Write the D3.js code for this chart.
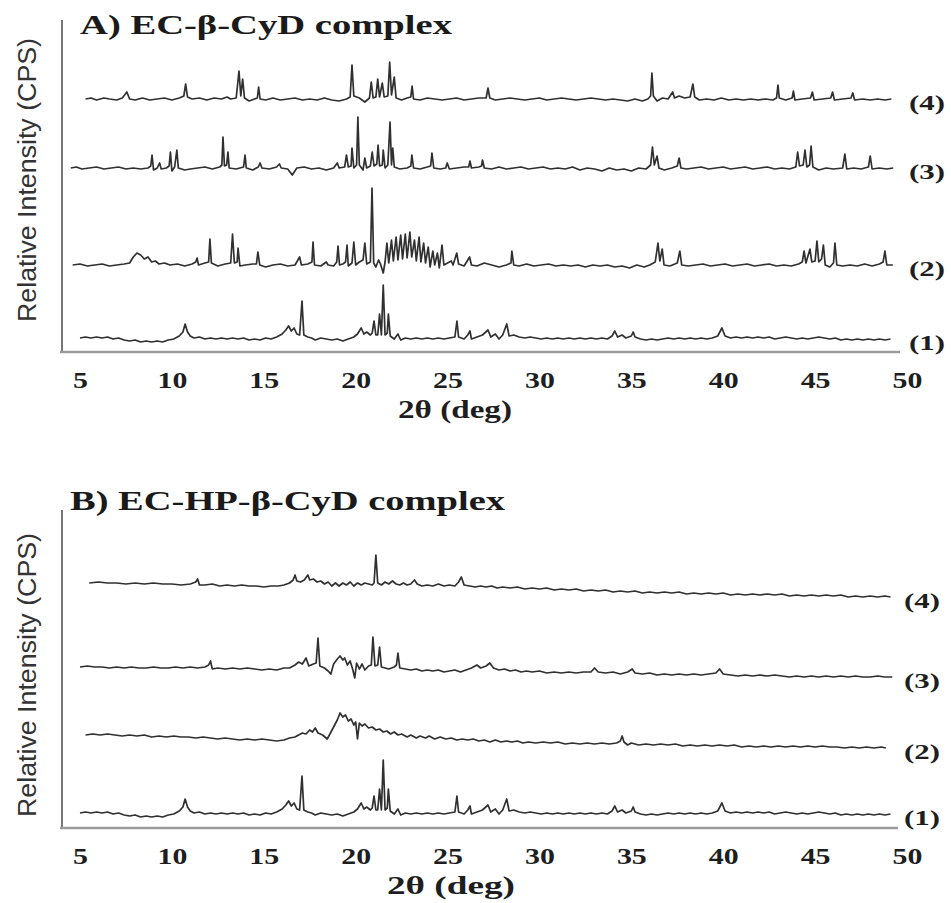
<!DOCTYPE html>
<html><head><meta charset="utf-8">
<script src="https://cdn.jsdelivr.net/npm/d3@7"></script>
<style>body{margin:0;background:#fff}</style>
</head><body><svg id="c" width="951" height="903"></svg>
<script>
// ---------------- data ----------------
const xTicks = [5, 10, 15, 20, 25, 30, 35, 40, 45, 50];
const seriesLabels = ["(1)", "(2)", "(3)", "(4)"];
const panelTitles = ["A) EC-\u03b2-CyD complex", "B) EC-HP-\u03b2-CyD complex"];
const yTitle = "Relative Intensity (CPS)";
const xTitle = "2\u03b8 (deg)";
// vertical offsets of stacked patterns (intensity units)
const offsetsA = [14, 87, 184, 253];
const offsetsB = [15, 93, 161, 245];

// Panel A (1) and Panel B (1): pure EC
const trace1 = [[5.0,0],[5.3,1],[5.6,0],[5.9,1],[6.2,0],[6.5,1],[6.8,-1],[7.1,0],[7.4,-2],[7.7,-3],[8.0,-2],[8.3,-4],[8.6,-3],[8.9,-4],[9.2,-3],[9.5,-4],[9.8,-2],[10.1,-1],[10.4,2],[10.6,6],[10.72,14],[10.85,6],[11.0,2],[11.2,0],[11.5,1],[11.8,-1],[12.1,0],[12.4,-1],[12.7,0],[13.0,-1],[13.3,0],[13.6,-1],[13.9,0],[14.2,-2],[14.5,-1],[14.8,-2],[15.1,0],[15.4,-1],[15.7,1],[16.0,4],[16.2,8],[16.35,12],[16.5,7],[16.65,10],[16.8,4],[16.95,3],[17.08,37],[17.18,3],[17.4,1],[17.6,0],[17.8,-2],[18.1,0],[18.4,-1],[18.7,-2],[19.0,-1],[19.3,-3],[19.6,-1],[19.9,1],[20.1,4],[20.3,10],[20.45,4],[20.6,6],[20.8,3],[20.9,5],[21.0,17],[21.1,3],[21.2,3],[21.3,24],[21.4,3],[21.5,53],[21.6,3],[21.72,5],[21.78,24],[21.88,2],[22.1,-1],[22.3,4],[22.45,-2],[22.7,0],[23.0,-1],[23.3,0],[23.6,-1],[23.9,0],[24.2,-1],[24.5,0],[24.8,-1],[25.1,0],[25.4,1],[25.51,17],[25.6,1],[25.9,-1],[26.1,3],[26.22,7],[26.3,-1],[26.6,1],[26.9,3],[27.2,8],[27.35,1],[27.6,4],[27.8,-1],[28.0,3],[28.22,14],[28.35,2],[28.6,3],[28.9,1],[29.2,0],[29.5,1],[29.8,0],[30.1,-1],[30.4,0],[30.7,-1],[31.0,0],[31.3,-1],[31.6,0],[31.9,-1],[32.2,0],[32.5,-1],[32.8,0],[33.1,-1],[33.4,0],[33.7,-1],[33.95,2],[34.1,7],[34.25,1],[34.5,3],[34.7,0],[35.0,2],[35.1,6],[35.2,1],[35.5,-1],[35.8,-2],[36.1,-1],[36.4,-2],[36.7,-1],[37.0,0],[37.3,-1],[37.6,0],[37.9,-1],[38.2,0],[38.5,-1],[38.8,0],[39.1,-1],[39.4,0],[39.7,2],[39.93,10],[40.1,2],[40.4,0],[40.7,1],[41.0,0],[41.3,1],[41.6,0],[41.9,1],[42.2,0],[42.5,1],[42.8,-1],[43.1,0],[43.4,1],[43.7,0],[44.0,-1],[44.3,0],[44.6,-1],[44.9,0],[45.2,1],[45.5,0],[45.8,-1],[46.1,0],[46.4,-2],[46.7,-1],[47.0,-2],[47.3,-1],[47.6,-2],[47.9,-1],[48.2,-2],[48.5,-1],[48.8,-2],[49.1,-1]];

const traceA2 = [[4.6,0],[5.0,1],[5.4,-1],[5.8,0],[6.2,1],[6.6,-1],[7.0,0],[7.4,1],[7.7,2],[7.9,8],[8.1,12],[8.3,10],[8.5,6],[8.7,8],[8.9,3],[9.1,4],[9.3,1],[9.6,2],[9.9,0],[10.3,1],[10.7,-1],[11.1,1],[11.3,3],[11.37,7],[11.45,0],[11.8,2],[12.0,3],[12.07,26],[12.15,2],[12.5,-1],[12.9,1],[13.2,2],[13.3,31],[13.4,2],[13.55,3],[13.6,17],[13.7,-1],[14.0,0],[14.4,1],[14.6,1],[14.68,13],[14.78,0],[15.1,-2],[15.5,0],[15.9,1],[16.3,-1],[16.7,0],[16.95,8],[17.05,0],[17.4,1],[17.62,3],[17.68,23],[17.76,0],[18.1,-1],[18.4,3],[18.5,0],[18.8,-1],[18.97,3],[19.04,19],[19.12,0],[19.3,1],[19.45,3],[19.53,20],[19.6,-1],[19.8,2],[19.9,23],[20.0,0],[20.2,3],[20.4,5],[20.5,22],[20.6,1],[20.8,3],[20.89,77],[20.98,2],[21.1,-2],[21.25,5],[21.35,1],[21.5,-8],[21.6,3],[21.7,22],[21.8,2],[21.95,25],[22.05,4],[22.2,28],[22.3,5],[22.45,30],[22.55,6],[22.7,31],[22.8,7],[22.95,33],[23.05,8],[23.2,25],[23.3,4],[23.45,28],[23.55,3],[23.7,22],[23.8,2],[23.95,18],[24.05,-2],[24.2,14],[24.3,0],[24.45,12],[24.55,-3],[24.7,20],[24.8,0],[25.0,2],[25.2,4],[25.3,0],[25.5,12],[25.6,1],[25.9,-1],[26.2,8],[26.3,0],[26.6,-1],[27.0,2],[27.4,0],[27.8,-2],[28.2,0],[28.45,2],[28.5,14],[28.6,0],[28.9,-1],[29.3,1],[29.7,-1],[30.1,0],[30.5,1],[30.9,-1],[31.3,0],[31.7,-1],[32.1,0],[32.5,-2],[32.9,0],[33.3,-1],[33.7,0],[34.1,-2],[34.5,-1],[34.9,-3],[35.3,0],[35.7,-2],[36.0,0],[36.3,3],[36.45,22],[36.55,4],[36.68,16],[36.78,0],[37.1,-1],[37.5,2],[37.64,14],[37.74,0],[38.1,-1],[38.5,0],[38.9,1],[39.3,-1],[39.7,0],[40.1,1],[40.5,-1],[40.9,0],[41.3,1],[41.7,-1],[42.1,0],[42.5,1],[42.9,-1],[43.3,0],[43.7,-1],[44.1,1],[44.3,3],[44.4,14],[44.5,2],[44.72,16],[44.82,3],[45.0,4],[45.1,24],[45.2,3],[45.35,6],[45.45,20],[45.55,0],[45.8,-2],[46.0,2],[46.08,22],[46.18,0],[46.5,-1],[46.9,0],[47.3,-1],[47.7,1],[48.1,-1],[48.5,1],[48.7,3],[48.8,14],[48.9,0],[49.23,0]];

const traceA3 = [[4.5,0],[4.8,1],[5.1,-1],[5.5,0],[5.9,1],[6.3,-1],[6.7,0],[7.1,1],[7.5,-1],[7.9,0],[8.3,-1],[8.7,0],[8.85,2],[8.92,13],[9.0,-2],[9.2,0],[9.33,5],[9.42,-1],[9.7,0],[9.85,2],[9.92,16],[10.0,-3],[10.15,1],[10.27,18],[10.35,0],[10.7,-2],[11.0,-1],[11.4,0],[11.8,1],[12.2,-1],[12.6,1],[12.72,3],[12.78,31],[12.86,2],[12.98,3],[13.05,16],[13.12,0],[13.5,-1],[13.9,1],[13.98,13],[14.05,0],[14.4,-2],[14.7,1],[14.8,5],[14.9,0],[15.3,-1],[15.7,1],[15.85,4],[15.95,0],[16.3,-1],[16.55,-7],[16.8,0],[17.2,1],[17.6,-1],[18.0,0],[18.4,-2],[18.8,0],[19.0,5],[19.1,0],[19.4,1],[19.5,13],[19.6,1],[19.75,2],[19.8,20],[19.9,0],[20.05,3],[20.12,51],[20.2,3],[20.4,-2],[20.5,10],[20.6,0],[20.8,2],[20.9,16],[21.0,2],[21.15,4],[21.22,23],[21.3,2],[21.45,3],[21.5,18],[21.6,0],[21.75,3],[21.87,46],[21.95,3],[22.02,20],[22.1,1],[22.4,-1],[22.8,0],[23.0,2],[23.06,13],[23.15,0],[23.5,-1],[23.9,1],[24.08,2],[24.15,15],[24.25,0],[24.6,-1],[24.9,0],[24.98,5],[25.1,-1],[25.5,0],[25.9,1],[26.15,1],[26.22,7],[26.3,0],[26.7,1],[26.85,2],[26.9,8],[27.0,0],[27.4,-1],[27.8,1],[28.2,-1],[28.6,0],[29.0,1],[29.4,-1],[29.8,0],[30.2,1],[30.6,-1],[31.0,0],[31.4,-1],[31.8,1],[32.2,-2],[32.6,0],[33.0,-1],[33.4,-3],[33.8,0],[34.2,-2],[34.6,-1],[35.0,-3],[35.4,0],[35.8,-1],[36.05,3],[36.15,21],[36.25,3],[36.4,12],[36.5,0],[36.8,-2],[37.2,0],[37.5,2],[37.6,10],[37.7,0],[38.0,-1],[38.4,0],[38.8,1],[39.2,-1],[39.6,0],[40.0,1],[40.4,-1],[40.8,0],[41.2,1],[41.6,-1],[42.0,0],[42.4,1],[42.8,-1],[43.2,0],[43.6,-1],[43.95,1],[44.05,16],[44.15,2],[44.35,3],[44.45,18],[44.55,1],[44.7,3],[44.78,22],[44.88,1],[45.2,-2],[45.6,0],[46.0,-1],[46.5,0],[46.62,14],[46.72,-1],[47.1,0],[47.5,-1],[47.9,1],[48.0,12],[48.1,-1],[48.5,0],[48.9,-1],[49.25,0]];

const traceA4 = [[5.3,0],[5.6,1],[5.9,-1],[6.3,1],[6.6,0],[7.0,-1],[7.3,1],[7.55,7],[7.7,0],[8.0,-1],[8.4,1],[8.8,-1],[9.2,0],[9.6,1],[10.0,-1],[10.4,1],[10.65,3],[10.75,15],[10.85,2],[11.1,0],[11.5,1],[11.9,-1],[12.3,1],[12.7,0],[13.0,2],[13.2,0],[13.5,1],[13.65,28],[13.75,3],[13.85,20],[13.95,1],[14.2,-2],[14.5,0],[14.65,1],[14.72,12],[14.8,0],[15.1,-1],[15.5,1],[15.9,-1],[16.3,0],[16.7,1],[17.1,-1],[17.5,0],[17.9,-1],[18.3,1],[18.7,-1],[19.1,-2],[19.5,0],[19.7,2],[19.8,34],[19.9,3],[20.2,1],[20.5,-3],[20.75,1],[20.85,17],[20.95,1],[21.1,2],[21.2,20],[21.3,2],[21.45,16],[21.55,2],[21.75,3],[21.85,37],[21.95,4],[22.1,22],[22.2,1],[22.5,-1],[22.8,1],[23.0,2],[23.07,13],[23.15,0],[23.5,-1],[23.9,1],[24.3,0],[24.7,-1],[25.1,0],[25.5,1],[25.9,-1],[26.3,0],[26.7,1],[27.1,1],[27.2,11],[27.3,1],[27.6,-1],[28.0,0],[28.4,1],[28.8,0],[29.2,-1],[29.6,0],[30.0,1],[30.4,-1],[30.8,0],[31.2,1],[31.6,0],[32.0,-1],[32.4,0],[32.8,1],[33.2,0],[33.6,-1],[34.0,0],[34.4,-1],[34.8,-2],[35.2,0],[35.6,-2],[35.9,0],[36.05,3],[36.12,26],[36.2,3],[36.4,-2],[36.7,1],[37.0,0],[37.25,7],[37.35,1],[37.6,3],[37.9,1],[38.2,2],[38.35,15],[38.45,2],[38.7,-1],[39.1,0],[39.5,-1],[39.9,1],[40.3,-1],[40.7,0],[41.1,-1],[41.5,0],[41.9,-1],[42.3,0],[42.7,-1],[42.9,1],[42.98,14],[43.05,1],[43.4,-1],[43.75,1],[43.82,8],[43.9,-1],[44.3,0],[44.75,1],[44.85,7],[44.95,-1],[45.4,0],[45.85,1],[45.95,7],[46.05,-1],[46.5,0],[46.95,1],[47.05,6],[47.15,-1],[47.6,0],[48.0,-1],[48.4,0],[48.8,-1],[49.15,0]];

const traceB2 = [[5.3,0],[5.7,1],[6.1,0],[6.5,1],[6.9,0],[7.3,-1],[7.7,0],[8.1,-1],[8.5,0],[8.9,-2],[9.3,-1],[9.7,-2],[10.1,-1],[10.5,-2],[10.9,-2],[11.3,-3],[11.7,-2],[12.1,-3],[12.5,-4],[12.9,-3],[13.3,-4],[13.7,-5],[14.1,-4],[14.5,-5],[14.9,-4],[15.3,-5],[15.7,-6],[16.1,-5],[16.4,-3],[16.7,-2],[16.9,0],[17.1,2],[17.3,1],[17.5,5],[17.65,3],[17.8,7],[17.95,2],[18.2,0],[18.45,-4],[18.6,1],[18.8,8],[19.0,15],[19.15,22],[19.3,18],[19.45,20],[19.6,14],[19.75,16],[19.9,10],[20.0,13],[20.1,-4],[20.2,12],[20.35,9],[20.5,11],[20.7,7],[20.9,8],[21.1,5],[21.3,6],[21.5,3],[21.7,4],[21.9,1],[22.1,3],[22.3,0],[22.5,1],[22.8,-2],[23.0,0],[23.3,-3],[23.5,-1],[23.8,-3],[24.0,-1],[24.3,-4],[24.6,-2],[24.9,-4],[25.2,-3],[25.5,-5],[25.8,-4],[26.1,-5],[26.4,-4],[26.7,-6],[27.0,-5],[27.3,-7],[27.6,-5],[27.9,-7],[28.2,-6],[28.5,-7],[28.8,-6],[29.1,-8],[29.4,-7],[29.8,-8],[30.2,-7],[30.6,-8],[31.0,-7],[31.4,-9],[31.8,-8],[32.2,-9],[32.6,-8],[33.0,-9],[33.4,-8],[33.8,-9],[34.2,-8],[34.4,-6],[34.5,-1],[34.6,-7],[34.8,-10],[35.0,-8],[35.4,-10],[35.8,-9],[36.2,-10],[36.6,-9],[37.0,-10],[37.4,-9],[37.8,-11],[38.2,-10],[38.6,-11],[39.0,-10],[39.4,-11],[39.8,-10],[40.2,-11],[40.6,-10],[41.0,-12],[41.4,-11],[41.8,-12],[42.2,-11],[42.6,-12],[43.0,-11],[43.4,-12],[43.8,-11],[44.2,-12],[44.6,-11],[45.0,-12],[45.4,-11],[45.8,-12],[46.2,-12],[46.6,-13],[47.0,-12],[47.4,-13],[47.8,-12],[48.2,-13],[48.6,-12],[48.85,-13]];

const traceB3 = [[5.0,0],[5.4,1],[5.8,0],[6.2,0],[6.6,-1],[7.0,0],[7.4,-1],[7.8,0],[8.2,-1],[8.6,-1],[9.0,0],[9.4,-1],[9.8,-1],[10.2,0],[10.6,-1],[11.0,0],[11.4,-1],[11.8,0],[12.0,2],[12.1,6],[12.2,-2],[12.5,-1],[12.9,-2],[13.3,-1],[13.7,-2],[14.1,-1],[14.5,-2],[14.9,-3],[15.3,-2],[15.7,-3],[16.1,-1],[16.4,-1],[16.7,2],[16.9,5],[17.1,3],[17.3,9],[17.45,1],[17.7,3],[17.85,4],[17.95,29],[18.05,1],[18.3,-1],[18.5,-4],[18.65,-7],[18.8,3],[19.0,8],[19.15,11],[19.3,7],[19.4,9],[19.55,2],[19.7,6],[19.85,-3],[19.95,-11],[20.05,4],[20.2,-2],[20.35,3],[20.5,-3],[20.7,1],[20.85,2],[20.94,30],[21.05,1],[21.2,2],[21.3,20],[21.4,0],[21.6,-1],[21.8,-2],[22.1,0],[22.22,2],[22.3,14],[22.4,-1],[22.7,-2],[23.0,-3],[23.3,-2],[23.6,-4],[23.9,-3],[24.2,-4],[24.5,-3],[24.8,-5],[25.1,-4],[25.4,-3],[25.7,-5],[26.0,-3],[26.3,-1],[26.6,2],[26.8,-1],[27.1,1],[27.3,4],[27.5,-1],[27.8,-3],[28.1,-2],[28.4,-4],[28.7,-3],[29.0,-5],[29.3,-4],[29.6,-5],[30.0,-4],[30.4,-6],[30.8,-5],[31.2,-6],[31.6,-5],[32.0,-6],[32.4,-5],[32.8,-5],[33.0,-1],[33.2,-5],[33.6,-6],[34.0,-5],[34.4,-7],[34.8,-5],[35.05,-2],[35.2,-6],[35.6,-7],[36.0,-6],[36.4,-8],[36.8,-7],[37.2,-8],[37.6,-7],[38.0,-8],[38.4,-7],[38.8,-8],[39.2,-7],[39.6,-6],[39.8,-2],[40.0,-7],[40.4,-8],[40.8,-9],[41.2,-8],[41.6,-9],[42.0,-8],[42.4,-9],[42.8,-8],[43.2,-9],[43.6,-10],[44.0,-9],[44.4,-10],[44.8,-9],[45.2,-10],[45.6,-9],[46.0,-10],[46.4,-9],[46.8,-10],[47.2,-9],[47.6,-10],[48.0,-10],[48.4,-9],[48.8,-10],[49.2,-10]];

const traceB4 = [[5.5,0],[6.0,1],[6.5,0],[7.0,0],[7.5,-1],[8.0,0],[8.5,-1],[9.0,0],[9.5,-1],[10.0,-1],[10.5,-2],[11.0,-1],[11.3,1],[11.4,4],[11.5,-2],[11.8,-2],[12.2,-1],[12.6,-3],[13.0,-2],[13.4,-3],[13.8,-2],[14.2,-3],[14.6,-3],[15.0,-4],[15.4,-3],[15.8,-3],[16.1,-2],[16.4,0],[16.6,3],[16.7,8],[16.8,2],[17.0,1],[17.2,3],[17.4,8],[17.5,3],[17.7,4],[17.9,1],[18.1,2],[18.3,-1],[18.5,1],[18.7,-3],[18.9,0],[19.1,-3],[19.3,0],[19.5,-2],[19.7,1],[19.9,-3],[20.1,0],[20.3,-2],[20.5,0],[20.7,-1],[20.9,-2],[21.0,0],[21.1,28],[21.2,0],[21.4,-2],[21.6,1],[21.8,-1],[22.0,2],[22.2,-1],[22.4,-2],[22.6,0],[22.8,-2],[23.0,-1],[23.2,3],[23.35,-1],[23.6,-3],[23.9,-2],[24.2,-3],[24.5,-1],[24.8,-3],[25.1,-2],[25.4,-3],[25.6,1],[25.75,6],[25.9,-2],[26.2,-3],[26.5,-4],[26.8,-3],[27.1,-4],[27.4,-3],[27.7,-5],[28.0,-4],[28.4,-5],[28.8,-4],[29.2,-6],[29.6,-5],[30.0,-6],[30.4,-5],[30.8,-7],[31.2,-6],[31.6,-7],[32.0,-6],[32.4,-8],[32.8,-7],[33.2,-8],[33.6,-7],[34.0,-9],[34.4,-8],[34.8,-9],[35.2,-8],[35.6,-10],[36.0,-9],[36.4,-10],[36.8,-9],[37.2,-10],[37.6,-9],[38.0,-11],[38.4,-10],[38.8,-11],[39.2,-10],[39.6,-11],[40.0,-10],[40.4,-12],[40.8,-11],[41.2,-12],[41.6,-11],[42.0,-12],[42.4,-11],[42.8,-12],[43.2,-11],[43.6,-13],[44.0,-12],[44.4,-13],[44.8,-12],[45.2,-13],[45.6,-12],[46.0,-13],[46.4,-12],[46.8,-14],[47.2,-13],[47.6,-14],[48.0,-13],[48.4,-14],[48.8,-13],[49.1,-14]];

const seriesA = [trace1, traceA2, traceA3, traceA4];
const seriesB = [trace1, traceB2, traceB3, traceB4];

// ---------------- drawing ----------------
const svg = d3.select("#c");
const serif = "'Liberation Serif','Times New Roman',serif";
const sans = "'Liberation Sans',Arial,sans-serif";

function panel(cfg) {
  const x = d3.scaleLinear().domain([5, 50]).range([80, 907]);
  const y = d3.scaleLinear().domain([0, 320]).range([cfg.axisY, cfg.axisY - 320]);
  const g = svg.append("g");

  // y axis line
  g.append("line").attr("x1", 62).attr("x2", 62).attr("y1", cfg.yTop).attr("y2", cfg.axisY)
    .attr("stroke", "#777").attr("stroke-width", 2);
  // x axis line
  g.append("line").attr("x1", 60).attr("x2", cfg.axisEnd).attr("y1", cfg.axisY).attr("y2", cfg.axisY)
    .attr("stroke", "#9a9a9a").attr("stroke-width", 2.5);

  const ax = g.append("g").attr("transform", `translate(0,${cfg.axisY})`)
    .call(d3.axisBottom(x).tickValues(xTicks).tickSize(0).tickPadding(20).tickFormat(d3.format("d")));
  ax.select(".domain").remove();
  ax.selectAll("text").attr("font-family", serif).attr("font-weight", "bold")
    .attr("font-size", 23).attr("fill", "#1e1e1e").attr("transform", "scale(1.3,1)");

  // traces
  const line = d3.line().x(d => x(d[0])).y(d => y(d[1]));
  cfg.series.forEach((s, i) => {
    const off = cfg.offsets[i];
    const pts = s.map(d => [d[0], d[1] + off]);
    g.append("path").attr("d", line(pts)).attr("fill", "none")
      .attr("stroke", "#303030").attr("stroke-width", 1.7).attr("stroke-linejoin", "round");
    const last = pts[pts.length - 1];
    g.append("text").attr("x", cfg.labelX).attr("y", y(last[1]) + 6)
      .attr("dominant-baseline", "middle")
      .attr("font-family", serif).attr("font-weight", "bold").attr("font-size", 21)
      .attr("textLength", 36).attr("lengthAdjust", "spacingAndGlyphs")
      .attr("fill", "#1e1e1e").text(seriesLabels[i]);
  });

  // panel title
  g.append("text").attr("x", cfg.titleX).attr("y", cfg.titleY)
    .attr("font-family", serif).attr("font-weight", "bold").attr("font-size", 27)
    .attr("textLength", cfg.titleLen).attr("lengthAdjust", "spacingAndGlyphs")
    .attr("fill", "#1a1a1a").text(cfg.title);

  // x title
  g.append("text").attr("x", cfg.xTitleX).attr("y", cfg.xTitleY).attr("text-anchor", "middle")
    .attr("font-family", serif).attr("font-weight", "bold").attr("font-size", 25)
    .attr("textLength", cfg.xTitleLen).attr("lengthAdjust", "spacingAndGlyphs")
    .attr("fill", "#1e1e1e").text(xTitle);

  // y title
  g.append("text").attr("transform", `translate(${cfg.yTitleX},${cfg.yTitleY}) rotate(-90)`)
    .attr("text-anchor", "middle").attr("dominant-baseline", "middle")
    .attr("font-family", sans).attr("font-size", 26)
    .attr("textLength", 284).attr("lengthAdjust", "spacingAndGlyphs")
    .attr("fill", "#333").text(yTitle);
}

panel({ axisY: 352, yTop: 20, axisEnd: 900, series: seriesA, offsets: offsetsA, labelX: 909,
  title: panelTitles[0], titleX: 80, titleY: 34, titleLen: 372,
  xTitleX: 455, xTitleY: 418, xTitleLen: 114, yTitleX: 29, yTitleY: 180 });
panel({ axisY: 828, yTop: 510, axisEnd: 898, series: seriesB, offsets: offsetsB, labelX: 904,
  title: panelTitles[1], titleX: 70, titleY: 510, titleLen: 435,
  xTitleX: 451, xTitleY: 894, xTitleLen: 128, yTitleX: 29, yTitleY: 675 });
</script>
</body></html>
